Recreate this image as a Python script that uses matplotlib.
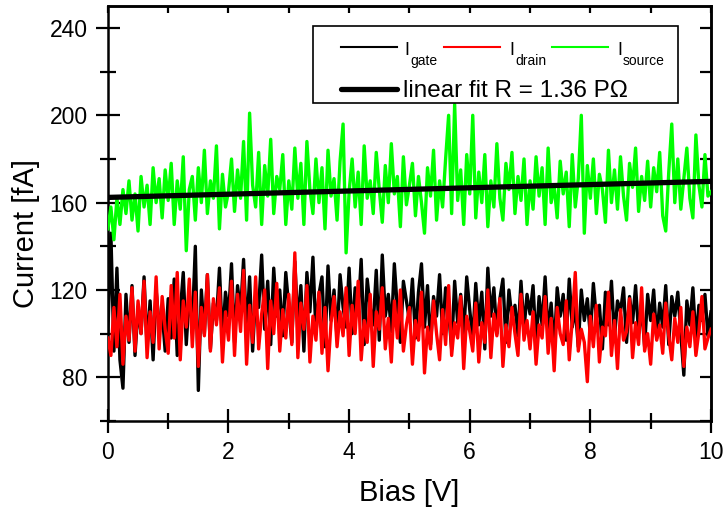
import matplotlib.pyplot as plt
from matplotlib.patches import Rectangle
from matplotlib.ticker import MultipleLocator
import numpy as np

plt.rcParams['font.family'] = ['Liberation Sans', 'DejaVu Sans']

# bias sweep 0..10 V, 201 samples
bias = np.linspace(0, 10, 201)

# source current [fA]
i_source = [
    148, 158, 143, 162, 150, 166, 155, 170, 152, 164, 147, 172, 158, 168, 150, 176, 160, 171, 153, 175,
    161, 178, 150, 170, 157, 181, 138, 166, 172, 152, 176, 160, 184, 155, 170, 162, 186, 148, 173, 158,
    165, 180, 156, 175, 162, 188, 152, 201, 168, 158, 183, 150, 177, 163, 189, 155, 172, 166, 182, 150,
    170, 157, 185, 162, 178, 150, 188, 166, 155, 180, 160, 176, 148, 184, 163, 171, 152, 179, 196, 137,
    165, 180, 158, 174, 150, 186, 162, 170, 155, 183, 166, 151, 177, 160, 187, 164, 172, 149, 181, 159,
    168, 178, 154, 172, 160, 146, 176, 163, 184, 152, 170, 158, 180, 200, 155, 205, 161, 175, 150, 182,
    164, 200, 153, 174, 160, 182, 149, 170, 158, 187, 162, 152, 178, 166, 183, 155, 172, 161, 180, 150,
    170, 157, 181, 163, 176, 150, 185, 160, 168, 153, 179, 164, 174, 149, 182, 158, 171, 200, 146, 177,
    162, 180, 155, 173, 166, 151, 184, 160, 175, 157, 181, 163, 152, 178, 167, 185, 156, 172, 161, 179,
    158, 176, 165, 183, 154, 147, 174, 196, 160, 180, 157, 171, 185, 162, 153, 191, 168, 158, 182, 163,
    165,
]

# gate current [fA]
i_gate = [
    100, 146, 92, 130, 88, 75, 118, 96, 122, 90, 112, 100, 126, 94, 115, 88, 120, 104, 110, 92,
    116, 98, 125, 90, 110, 128, 95, 118, 104, 140, 74, 120, 100, 127, 93, 114, 106, 130, 97, 119,
    108, 132, 96, 122, 110, 134, 100, 126, 92, 118, 112, 136, 102, 124, 95, 130, 108, 120, 99, 128,
    112, 96, 133, 104, 122, 92, 128, 110, 135, 100, 118, 126, 94, 131, 106, 120, 98, 127, 112, 103,
    130, 100, 121, 109, 134, 95, 125, 112, 104, 129, 97, 136, 108, 118, 101, 132, 111, 96, 124, 115,
    106, 125, 98, 119, 132, 103, 122, 95, 117, 108, 127, 100, 121, 110, 93, 124, 105, 118, 99, 126,
    111, 97, 123, 104, 119, 93, 130, 108, 121, 100, 116, 125, 96, 120, 107, 113, 99, 124, 102, 118,
    109, 122, 95, 117, 104, 126, 100, 114, 92, 121, 108, 118, 97, 125, 103, 112, 94, 120, 106, 116,
    99, 123, 107, 113, 93, 119, 104, 124, 98, 115, 110, 121, 96, 117, 105, 122, 100, 112, 94, 118,
    106, 120, 98, 114, 103, 122, 95, 117, 108, 119, 100, 81, 115, 104, 121, 97, 113, 106, 118, 99,
    110,
]

# drain current [fA]
i_drain = [
    98, 90, 112, 94, 118, 86, 108, 97, 121, 92, 115, 100, 124, 89, 110, 96, 126, 93, 117, 102,
    91, 122, 98, 128, 88, 115, 103, 125, 94, 119, 85, 112, 99, 127, 92, 116, 104, 121, 87, 110,
    97, 124, 90, 118, 101, 129, 86, 113, 96, 126, 93, 109, 120, 84, 115, 100, 123, 92, 111, 98,
    118, 95, 137, 89, 114, 102, 122, 87, 108, 97, 119, 91, 112, 83, 105, 117, 94, 110, 99, 121,
    90, 113, 100, 124, 88, 106, 96, 118, 85, 110, 102, 121, 93, 107, 87, 115, 98, 120, 92, 104,
    112, 86, 106, 97, 119, 82, 103, 93, 115, 100, 88, 111, 95, 122, 90, 105, 98, 117, 84, 108,
    101, 92, 114, 87, 105, 96, 120, 89, 109, 99, 116, 85, 104, 94, 112, 100, 90, 118, 97, 106,
    93, 110, 86, 104, 98, 117, 91, 107, 83, 112, 100, 95, 115, 88, 106, 128, 92, 102, 96, 78,
    108, 94, 113, 87, 103, 99, 119, 90, 106, 84, 111, 97, 101, 116, 89, 105, 95, 121, 92, 100,
    86, 109, 97, 104, 91, 114, 99, 88, 107, 96, 112, 85, 103, 94, 110, 90, 101, 117, 93, 98,
    102,
]

# linear fit of the source current
fit_intercept = 162.4   # fA at 0 V
fit_R = 1.36e15         # Ohm
fit_x = [0, 10]

fig = plt.figure(figsize=(7.24, 5.14), dpi=100)
ax = fig.add_axes([0.149, 0.181, 0.833, 0.807])

ax.plot(bias, i_gate, c='black', lw=2.4, zorder=2)
ax.plot(bias, i_drain, c='#ff0000', lw=2.4, zorder=3)
ax.plot(bias, i_source, c='#00ff00', lw=2.4, zorder=4)
fit_y = [fit_intercept + x / fit_R * 1e15 for x in fit_x]
ax.plot(fit_x, fit_y, c='black', lw=3.8, zorder=5)

ax.set_xlim(0, 10)
ax.set_ylim(60, 250)
ax.xaxis.set_major_locator(MultipleLocator(2))
ax.xaxis.set_minor_locator(MultipleLocator(1))
ax.yaxis.set_major_locator(MultipleLocator(40))
ax.yaxis.set_minor_locator(MultipleLocator(20))
ax.set_yticks([80, 120, 160, 200, 240])

for s in ax.spines.values():
    s.set_linewidth(1.8)
ax.tick_params(which='major', direction='inout', length=17, width=1.6,
               labelsize=16.5, pad=6)
ax.tick_params(which='minor', direction='inout', length=11, width=1.6)

# inward ticks on top and right
top = ax.secondary_xaxis('top')
top.xaxis.set_major_locator(MultipleLocator(2))
top.xaxis.set_minor_locator(MultipleLocator(1))
top.tick_params(which='both', direction='in', length=5, width=1.6, labeltop=False)
right = ax.secondary_yaxis('right')
right.yaxis.set_major_locator(MultipleLocator(40))
right.yaxis.set_minor_locator(MultipleLocator(20))
right.tick_params(which='both', direction='in', length=8, width=1.6, labelright=False)
for sec in (top, right):
    for s in sec.spines.values():
        s.set_linewidth(1.8)

ax.set_xlabel('Bias [V]', fontsize=21)
ax.set_ylabel('Current [fA]', fontsize=21)
ax.xaxis.set_label_coords(0.499, -0.14)
ax.yaxis.set_label_coords(-0.112, 0.453)

# legend box drawn by hand
T = ax.transAxes
ax.add_patch(Rectangle((0.340, 0.766), 0.605, 0.186, transform=T,
                       facecolor='white', edgecolor='black', lw=1.2, zorder=10))
ax.plot([0.386, 0.479], [0.901, 0.901], transform=T, c='black', lw=1.5, zorder=11)
ax.plot([0.557, 0.650], [0.901, 0.901], transform=T, c='#ff0000', lw=1.5, zorder=11)
ax.plot([0.736, 0.829], [0.901, 0.901], transform=T, c='#00ff00', lw=1.5, zorder=11)
ax.plot([0.386, 0.479], [0.800, 0.800], transform=T, c='black', lw=3.8,
        solid_capstyle='round', zorder=11)

for xi, xs, sub in [(0.491, 0.501, 'gate'), (0.666, 0.676, 'drain'), (0.844, 0.854, 'source')]:
    ax.text(xi, 0.882, 'I', transform=T, fontsize=13, va='baseline', zorder=12)
    ax.text(xs, 0.858, sub, transform=T, fontsize=10, va='baseline', zorder=12)
ax.text(0.489, 0.781, 'linear fit R = 1.36 P\u03a9', transform=T, fontsize=17.5,
        va='baseline', zorder=12)

plt.savefig('out.png', dpi=100)
